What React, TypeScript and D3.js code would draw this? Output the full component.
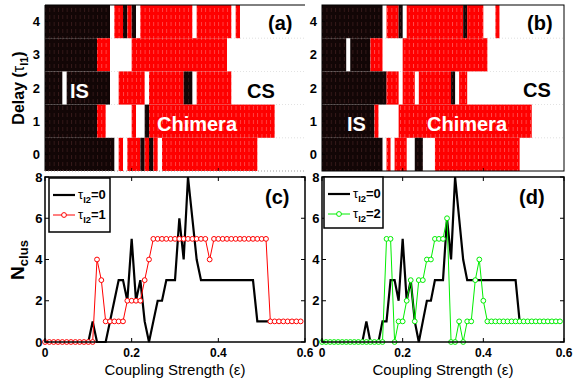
import React from 'react';
import * as d3 from 'd3';

const FONT = "'Liberation Sans', Arial, Helvetica, sans-serif";

// coupling strength grid, step 0.01
const eps = d3.range(60).map(i => i / 100);

// heat map rows as runs of bins, listed from delay row 4 (top) to row 0 (bottom)
// k = incoherent (IS), r = chimera, w = coherent (CS)
const runsA: [string, number][][] = [
  [['k', 15], ['w', 1], ['r', 2], ['k', 1], ['r', 1], ['k', 1], ['w', 1], ['r', 12], ['w', 1], ['r', 8], ['w', 1], ['r', 1], ['w', 15]],
  [['k', 12], ['r', 3], ['w', 5], ['r', 22], ['w', 18]],
  [['k', 4], ['w', 1], ['k', 10], ['w', 2], ['r', 6], ['w', 1], ['r', 8], ['k', 2], ['w', 1], ['r', 8], ['w', 17]],
  [['k', 12], ['r', 2], ['w', 6], ['r', 1], ['w', 2], ['k', 1], ['r', 29], ['w', 7]],
  [['k', 16], ['w', 1], ['r', 1], ['w', 1], ['r', 3], ['k', 1], ['r', 1], ['k', 1], ['r', 1], ['w', 1], ['r', 22], ['w', 11]],
];
const runsB: [string, number][][] = [
  [['k', 15], ['w', 1], ['r', 3], ['k', 1], ['w', 1], ['r', 14], ['k', 1], ['r', 4], ['w', 3], ['r', 1], ['w', 16]],
  [['k', 6], ['w', 1], ['k', 5], ['r', 3], ['w', 5], ['r', 21], ['w', 19]],
  [['k', 16], ['r', 3], ['w', 1], ['r', 3], ['w', 1], ['r', 8], ['k', 1], ['w', 1], ['r', 2], ['w', 24]],
  [['k', 13], ['r', 1], ['w', 5], ['r', 33], ['w', 8]],
  [['k', 15], ['w', 1], ['r', 1], ['w', 1], ['r', 3], ['w', 2], ['k', 2], ['w', 3], ['r', 21], ['w', 11]],
];
const rowLabelsA = ['4', '3', '2', '1', '0'];
const rowLabelsB = ['4', '2', '2', '1', '0'];

// number of clusters vs coupling strength
const blackC = [0, 0, 0, 0, 0, 0, 0, 0, 0, 0, 0, 1, 0, 0, 0, 1, 2, 3, 3, 2, 5, 2, 3, 1, 0, 1, 2, 2, 3, 3, 3, 6, 4, 8, 6, 4, 3, 3, 3, 3, 3, 3, 3, 3, 3, 3, 3, 3, 3, 1, 1, 1, 1, 1, 1, 1, 1, 1, 1, 1];
const redC = [0, 0, 0, 0, 0, 0, 0, 0, 0, 0, 0, 0, 4, 3, 1, 1, 1, 1, 1, 2, 2, 2, 2, 3, 4, 5, 5, 5, 5, 5, 5, 5, 5, 5, 5, 5, 5, 5, 4, 5, 5, 5, 5, 5, 5, 5, 5, 5, 5, 5, 5, 5, 1, 1, 1, 1, 1, 1, 1, 1];
const blackD = [0, 0, 0, 0, 0, 0, 0, 0, 0, 0, 0, 1, 0, 0, 0, 1, 1, 3, 3, 2, 5, 2, 3, 1, 0, 1, 2, 2, 3, 3, 3, 6, 4, 8, 6, 4, 3, 3, 3, 3, 3, 3, 3, 3, 3, 3, 3, 3, 3, 1, 1, 1, 1, 1, 1, 1, 1, 1, 1, 1];
const greenD = [0, 0, 0, 0, 0, 0, 0, 0, 0, 0, 0, 0, 0, 0, 0, 0, 5, 5, 0, 1, 1, 2, 3, 1, 3, 3, 4, 4, 5, 5, 5, 6, 0, 0, 1, 0, 1, 1, 3, 4, 2, 1, 1, 1, 1, 1, 1, 1, 1, 1, 1, 1, 1, 1, 1, 1, 1, 1, 1, 1];

const xTicks = [0, 0.2, 0.4, 0.6];
const yTicks = [0, 2, 4, 6, 8];

const bold = { fontFamily: FONT, fontWeight: 700 };

function HeatPanel({ x0, x1, y0, y1, runs, labels, tag, notes, frame }: any) {
  const x = d3.scaleLinear().domain([0, 0.6]).range([x0, x1]);
  const y = d3.scaleBand().domain(labels.map((_: string, i: number) => String(i))).range([y0, y1]);
  const cells: any[] = [];
  runs.forEach((row: [string, number][], ri: number) => {
    let start = 0;
    row.forEach(([state, n], j) => {
      if (state !== 'w') {
        cells.push(
          <rect key={`${ri}-${j}`} x={x(eps[0] + start / 100)} y={y(String(ri))}
            width={x(n / 100) - x(0)} height={y.bandwidth()}
            fill={state === 'k' ? 'url(#texK)' : 'url(#texR)'} />
        );
      }
      start += n;
    });
  });
  return (
    <g>
      {cells}
      {labels.map((_: string, i: number) => i > 0 ? (
        <line key={'g' + i} x1={x0} x2={x1} y1={y(String(i))} y2={y(String(i))}
          stroke="#999" strokeWidth={0.5} strokeDasharray="1,2" opacity={0.6} />
      ) : null)}
      {labels.map((l: string, i: number) => (
        <g key={'l' + i}>
          <text x={x0 - 5} y={(y(String(i)) as number) + y.bandwidth() / 2 + 4.5}
            textAnchor="end" fontSize={13} {...bold}>{l}</text>
          <line x1={x0} x2={x0 + 3} y1={(y(String(i)) as number) + y.bandwidth() / 2}
            y2={(y(String(i)) as number) + y.bandwidth() / 2} stroke="#000" strokeWidth={0.8} />
        </g>
      ))}
      {[0.2, 0.4].map(t => (
        <line key={'t' + t} x1={x(t)} x2={x(t)} y1={y1} y2={y1 - 3} stroke="#000" strokeWidth={0.8} />
      ))}
      {frame === 'full' ? (
        <rect x={x0} y={y0} width={x1 - x0} height={y1 - y0} fill="none" stroke="#000" strokeWidth={1} />
      ) : (
        <g>
          <line x1={x0} x2={x1} y1={y0} y2={y0} stroke="#000" strokeWidth={1} />
          <line x1={x0} x2={x0} y1={y0} y2={y1} stroke="#000" strokeWidth={1} />
          <line x1={x0} x2={x1} y1={y1} y2={y1} stroke="#888" strokeWidth={0.8} strokeDasharray="1,2" />
        </g>
      )}
      <text x={tag.x} y={tag.y} fontSize={20} {...bold}>{tag.t}</text>
      {notes.map((n: any) => (
        <text key={n.t} x={n.x} y={n.y} fontSize={20} fill={n.c} {...bold}>{n.t}</text>
      ))}
    </g>
  );
}

function Tau({ x, y, sub, rest, size = 13 }: any) {
  return (
    <text x={x} y={y} fontFamily={FONT} fontSize={size}>
      <tspan>τ</tspan>
      <tspan dy={4} fontSize={size * 0.72} fontWeight={700}>{sub}</tspan>
      <tspan dy={-4} fontWeight={700}>{rest}</tspan>
    </text>
  );
}

function LinePanel({ x0, x1, y0, y1, black, other, color, otherLabel, tag, box }: any) {
  const x = d3.scaleLinear().domain([0, 0.6]).range([x0, x1]);
  const y = d3.scaleLinear().domain([0, 8]).range([y1, y0]);
  const line = d3.line<number>().x((_, i) => x(eps[i])).y(d => y(d));
  return (
    <g>
      <path d={line(black) as string} fill="none" stroke="#000" strokeWidth={2.2} strokeLinejoin="miter" />
      <path d={line(other) as string} fill="none" stroke={color} strokeWidth={1} />
      {other.map((d: number, i: number) => (
        <circle key={i} cx={x(eps[i])} cy={y(d)} r={2.4} fill="#fff" stroke={color} strokeWidth={1} />
      ))}
      <rect x={x0} y={y0} width={x1 - x0} height={y1 - y0} fill="none" stroke="#000" strokeWidth={1.5} />
      {yTicks.map(t => (
        <g key={'y' + t}>
          <line x1={x0} x2={x0 + 4} y1={y(t)} y2={y(t)} stroke="#000" strokeWidth={1} />
          <line x1={x1} x2={x1 - 4} y1={y(t)} y2={y(t)} stroke="#000" strokeWidth={1} />
          <text x={x0 - 2.5} y={y(t) + 4.5} textAnchor="end" fontSize={13} {...bold}>{t}</text>
        </g>
      ))}
      {xTicks.map(t => (
        <g key={'x' + t}>
          <line x1={x(t)} x2={x(t)} y1={y1} y2={y1 - 4} stroke="#000" strokeWidth={1} />
          <line x1={x(t)} x2={x(t)} y1={y0} y2={y0 + 4} stroke="#000" strokeWidth={1} />
          <text x={x(t)} y={y1 + 15} textAnchor="middle" fontSize={12} {...bold}>{t === 0 ? '0' : String(t)}</text>
        </g>
      ))}
      <text x={(x0 + x1) / 2} y={y1 + 33} textAnchor="middle" fontSize={15} fontFamily={FONT}>Coupling Strength (ε)</text>
      <text x={tag.x} y={tag.y} fontSize={20} {...bold}>{tag.t}</text>
      <rect x={box.x} y={box.y} width={box.w} height={box.h} fill="#fff" stroke="#000" strokeWidth={1.5} />
      <line x1={box.x + 4} x2={box.x + 26} y1={box.y + 17} y2={box.y + 17} stroke="#000" strokeWidth={2.2} />
      <Tau x={box.x + 29} y={box.y + 21} sub="I2" rest="=0" />
      <line x1={box.x + 4} x2={box.x + 26} y1={box.y + 37} y2={box.y + 37} stroke={color} strokeWidth={1} />
      <circle cx={box.x + 15} cy={box.y + 37} r={2.4} fill="#fff" stroke={color} strokeWidth={1} />
      <Tau x={box.x + 29} y={box.y + 41} sub="I2" rest={otherLabel} />
    </g>
  );
}

export default function App() {
  return (
    <svg width={573} height={380} style={{ position: 'absolute', left: 0, top: 0, background: '#fff' }}>
      <defs>
        <pattern id="texR" width={4.33} height={7} patternUnits="userSpaceOnUse">
          <rect width={4.33} height={7} fill="#ff0000" />
          <line x1={2.2} x2={2.2} y1={1} y2={5} stroke="#ff7a7a" strokeWidth={0.6} />
        </pattern>
        <pattern id="texK" width={4.33} height={7} patternUnits="userSpaceOnUse">
          <rect width={4.33} height={7} fill="#120606" />
          <line x1={2.2} x2={2.2} y1={1} y2={5} stroke="#4a2626" strokeWidth={0.6} />
        </pattern>
      </defs>

      <LinePanel x0={45} x1={305} y0={177} y1={342} black={blackC} other={redC} color="#ff0000"
        otherLabel="=1" tag={{ t: '(c)', x: 265, y: 204 }} box={{ x: 49, y: 178, w: 61, h: 54 }} />
      <LinePanel x0={322} x1={564} y0={177} y1={342} black={blackD} other={greenD} color="#00ee00"
        otherLabel="=2" tag={{ t: '(d)', x: 519, y: 204 }} box={{ x: 324, y: 177, w: 59, h: 51 }} />

      <HeatPanel x0={45} x1={305} y0={5} y1={171} runs={runsA} labels={rowLabelsA} frame="open"
        tag={{ t: '(a)', x: 268, y: 30 }}
        notes={[{ t: 'IS', x: 70, y: 98, c: '#fff' }, { t: 'CS', x: 247, y: 98, c: '#000' }, { t: 'Chimera', x: 157, y: 131, c: '#fff' }]} />
      <HeatPanel x0={322} x1={564} y0={5} y1={171} runs={runsB} labels={rowLabelsB} frame="full"
        tag={{ t: '(b)', x: 527, y: 30 }}
        notes={[{ t: 'IS', x: 347, y: 131, c: '#fff' }, { t: 'CS', x: 523, y: 97, c: '#000' }, { t: 'Chimera', x: 427, y: 131, c: '#fff' }]} />

      <text transform="translate(24,88) rotate(-90)" textAnchor="middle" fontSize={16} {...bold}>
        Delay (<tspan fontWeight={400}>τ</tspan><tspan dy={4} fontSize={11}>I1</tspan><tspan dy={-4}>)</tspan>
      </text>
      <text transform="translate(24,260) rotate(-90)" textAnchor="middle" fontSize={19} {...bold}>
        N<tspan dy={4} fontSize={13}>clus</tspan>
      </text>
    </svg>
  );
}
